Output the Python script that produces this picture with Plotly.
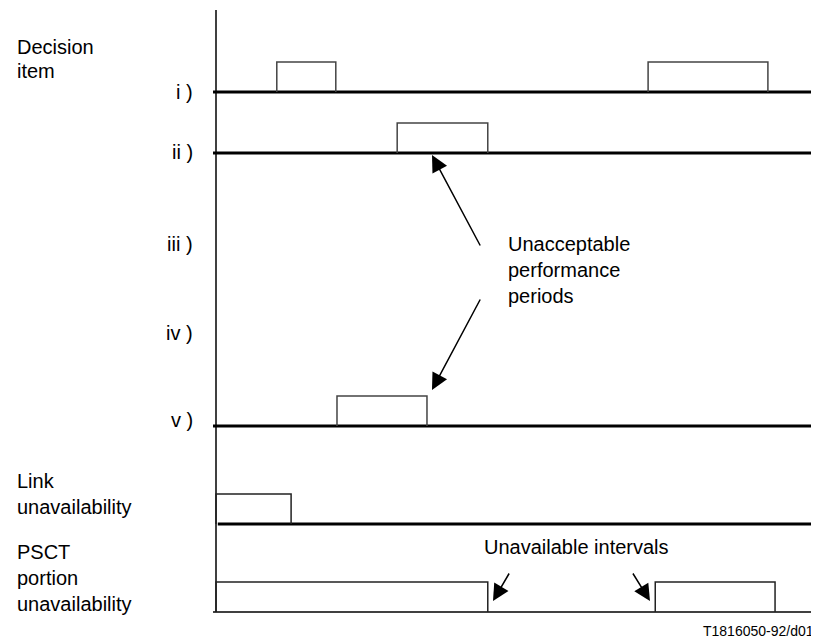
import plotly.graph_objects as go

# ---- data (time units along the horizontal axis, 0..100) ----
i_starts = [10.2, 72.5]
i_ends = [20.1, 92.6]
ii_starts = [30.4]
ii_ends = [45.6]
v_starts = [20.3]
v_ends = [35.4]
link_starts = [0.0]
link_ends = [12.6]
psct_starts = [0.0, 73.7]
psct_ends = [45.6, 93.8]

row_labels = ["i )", "ii )", "iii )", "iv )", "v )"]

# ---- layout constants (pixel geometry) ----
W, H = 819, 642
OFF = 8             # page body margin in the browser
X0 = 216.0          # pixel of time 0
PXU = 5.96          # pixels per time unit
T_END = 100.0
PULSE_H = 30
BASE = {"i": 92, "ii": 153, "v": 426, "link": 524, "psct": 612}
LABEL_Y = {"i )": 92, "ii )": 152, "iii )": 244, "iv )": 333, "v )": 420}

FONT = "Liberation Sans, Arial, sans-serif"


def tx(p):
    return (p - X0) / PXU  # pixel x -> data x (for text placement)


fig = go.Figure()

# vertical time axis line
fig.add_trace(go.Scatter(x=[0, 0], y=[10, BASE["psct"]], mode="lines",
                         line=dict(color="black", width=1.5), hoverinfo="skip"))

# baselines
for key, w in [("i", 3), ("ii", 3), ("v", 3), ("link", 3), ("psct", 1.5)]:
    x_start = -0.5 if key != "link" else 0.3
    fig.add_trace(go.Scatter(x=[x_start, T_END], y=[BASE[key], BASE[key]], mode="lines",
                             line=dict(color="black", width=w), hoverinfo="skip"))


def add_pulses(starts, ends, base, color="#444444"):
    xs, ys = [], []
    for s, e in zip(starts, ends):
        xs += [s, s, e, e, None]
        ys += [base, base - PULSE_H, base - PULSE_H, base, None]
    fig.add_trace(go.Scatter(x=xs, y=ys, mode="lines",
                             line=dict(color=color, width=1.5), hoverinfo="skip"))


add_pulses(i_starts, i_ends, BASE["i"])
add_pulses(ii_starts, ii_ends, BASE["ii"])
add_pulses(v_starts, v_ends, BASE["v"])
add_pulses(link_starts, link_ends, BASE["link"], color="#222222")
add_pulses(psct_starts, psct_ends, BASE["psct"], color="#222222")

ann = []
# left labels
for txt, y in [("Decision", 47), ("item", 71), ("Link<br>unavailability", 494),
               ("PSCT<br>portion<br>unavailability", 578)]:
    ann.append(dict(x=tx(15), y=y, text=txt, showarrow=False, xanchor="left",
                    yanchor="middle", align="left", font=dict(size=20)))
for lab in row_labels:
    ann.append(dict(x=tx(195), y=LABEL_Y[lab], text=lab, showarrow=False,
                    xanchor="right", yanchor="middle", font=dict(size=20)))

# Unacceptable performance periods text + arrows
ann.append(dict(x=tx(506), y=270, text="Unacceptable<br>performance<br>periods",
                showarrow=False, xanchor="left", yanchor="middle", align="left",
                font=dict(size=20)))
arrow_common = dict(showarrow=True, arrowhead=2, arrowsize=2.2, arrowwidth=1.5,
                    arrowcolor="black", axref="x", ayref="y", text="")
ann.append(dict(x=tx(432), y=155, ax=tx(481), ay=247, **arrow_common))
ann.append(dict(x=tx(432), y=390, ax=tx(481), ay=298, **arrow_common))

# Unavailable intervals
ann.append(dict(x=tx(576), y=547, text="Unavailable intervals", showarrow=False,
                xanchor="center", yanchor="middle", font=dict(size=20)))
ann.append(dict(x=tx(493), y=601, ax=tx(510), ay=572, **arrow_common))
ann.append(dict(x=tx(650), y=601, ax=tx(632), ay=572, **arrow_common))

# figure id
ann.append(dict(x=tx(816), y=631, text="T1816050-92/d01", showarrow=False,
                xanchor="right", yanchor="middle", font=dict(size=14)))

fig.update_layout(
    width=W, height=H, autosize=False,
    margin=dict(l=0, r=0, t=0, b=0),
    paper_bgcolor="white", plot_bgcolor="white",
    showlegend=False,
    font=dict(family=FONT, color="black", size=20),
    # shift by the page margin so reference pixel p lands at window pixel p
    xaxis=dict(range=[tx(OFF), tx(W + OFF)], visible=False, fixedrange=True),
    yaxis=dict(range=[H + OFF, OFF], visible=False, fixedrange=True),
    annotations=ann,
)

fig.write_html("out.html")
